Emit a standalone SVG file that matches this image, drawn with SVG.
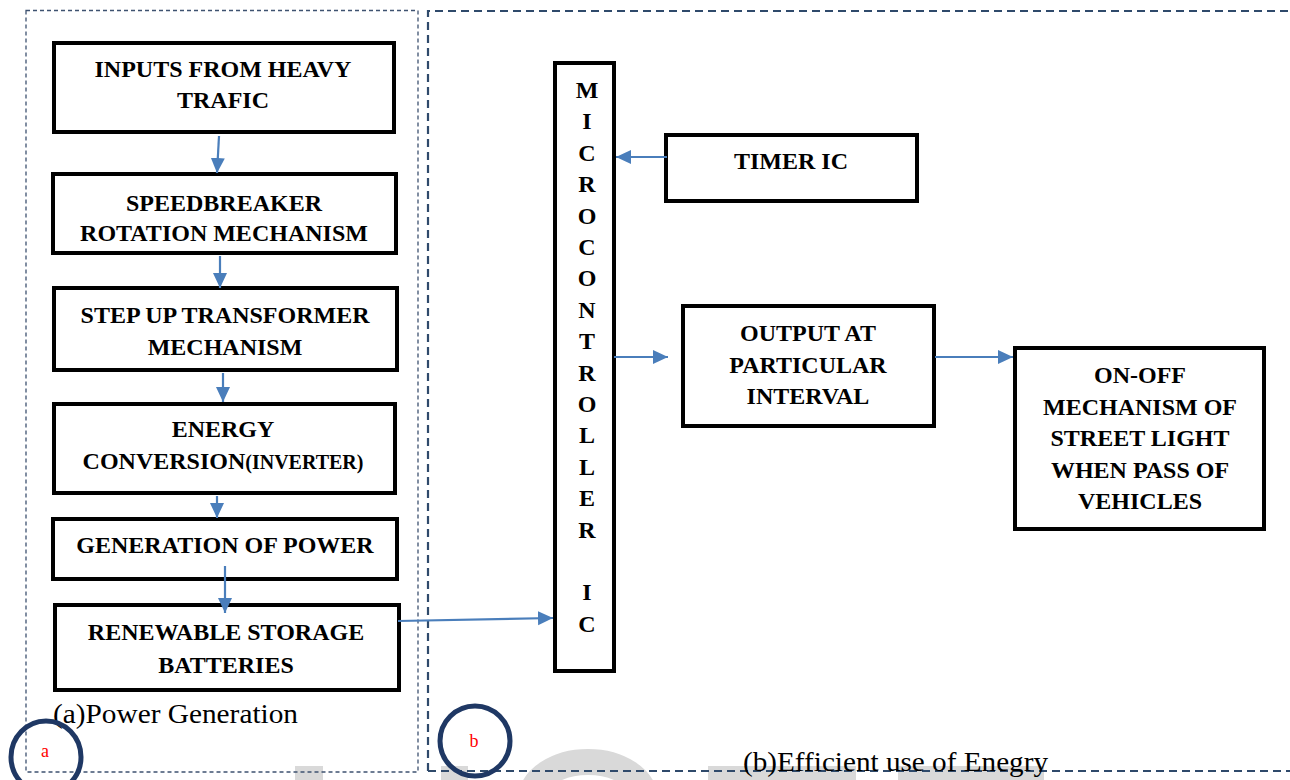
<svg xmlns="http://www.w3.org/2000/svg" width="1290" height="780" viewBox="0 0 1290 780">
<style>
.box{fill:#fff;stroke:#000;stroke-width:4}
.t{font-family:"Liberation Serif","Times New Roman",serif;font-weight:bold;font-size:24px;fill:#000;text-anchor:middle}
.lbl{font-family:"Liberation Serif","Times New Roman",serif;font-size:28px;fill:#000}
.red{font-family:"Liberation Serif","Times New Roman",serif;font-size:18px;fill:#ff0000;text-anchor:middle}
.conn{stroke:#4a7ebb;stroke-width:2.2;fill:none;marker-end:url(#ah)}
.wm{fill:#d9d9d9}
.circ{fill:none;stroke:#1f3864;stroke-width:5}
</style>
<defs>
<marker id="ah" markerUnits="userSpaceOnUse" markerWidth="16" markerHeight="15" refX="15" refY="7" orient="auto">
<path d="M0,0 L15,7 L0,14 z" fill="#4a7ebb"/>
</marker>
</defs>
<rect width="1290" height="780" fill="#fff"/>
<g id="watermark">
<rect class="wm" x="295" y="766" width="28" height="14"/>
<rect class="wm" x="441" y="766" width="27" height="14"/>
<path d="M531,800 A57,38 0 0 1 645,800" fill="none" stroke="#d9d9d9" stroke-width="26"/>
<rect class="wm" x="708" y="766" width="148" height="14"/>
<rect class="wm" x="898" y="766" width="146" height="14"/>
</g>
<g id="frames">
<rect x="26" y="10.5" width="392" height="761.5" fill="none" stroke="#3e5270" stroke-width="1.3" stroke-dasharray="4,3"/>
<path d="M428,771 L428,11 L1300,11 M428,771 L1300,771" fill="none" stroke="#2f4a6b" stroke-width="2.2" stroke-dasharray="8,5"/>
</g>
<g id="n1"><rect class="box" x="54" y="43" width="340" height="89"/><text class="t" x="223" y="77">INPUTS FROM HEAVY</text><text class="t" x="223" y="108">TRAFIC</text></g>
<g id="n2"><rect class="box" x="53" y="174" width="343" height="79"/><text class="t" x="224" y="211">SPEEDBREAKER</text><text class="t" x="224" y="241">ROTATION MECHANISM</text></g>
<g id="n3"><rect class="box" x="54" y="288" width="343" height="82"/><text class="t" x="225" y="323">STEP UP TRANSFORMER</text><text class="t" x="225" y="355">MECHANISM</text></g>
<g id="n4"><rect class="box" x="54" y="404" width="341" height="89"/><text class="t" x="223" y="437">ENERGY</text><text class="t" x="223" y="469">CONVERSION<tspan font-size="20">(INVERTER)</tspan></text></g>
<g id="n5"><rect class="box" x="53" y="519" width="344" height="60"/><text class="t" x="225" y="553">GENERATION OF POWER</text></g>
<g id="n6"><rect class="box" x="55" y="605" width="344" height="85"/><text class="t" x="226" y="640">RENEWABLE STORAGE</text><text class="t" x="226" y="673">BATTERIES</text></g>
<g id="micro"><rect class="box" x="555" y="63" width="59" height="608"/>
<text class="t" x="587" y="98">M</text><text class="t" x="587" y="129.4">I</text><text class="t" x="587" y="160.8">C</text><text class="t" x="587" y="192.2">R</text><text class="t" x="587" y="223.6">O</text><text class="t" x="587" y="255">C</text><text class="t" x="587" y="286.4">O</text><text class="t" x="587" y="317.8">N</text><text class="t" x="587" y="349.2">T</text><text class="t" x="587" y="380.6">R</text><text class="t" x="587" y="412">O</text><text class="t" x="587" y="443.4">L</text><text class="t" x="587" y="474.8">L</text><text class="t" x="587" y="506.2">E</text><text class="t" x="587" y="537.6">R</text><text class="t" x="587" y="600.4">I</text><text class="t" x="587" y="631.8">C</text>
</g>
<g id="timer"><rect class="box" x="666" y="135" width="251" height="66"/><text class="t" x="791" y="169">TIMER IC</text></g>
<g id="output"><rect class="box" x="683" y="306" width="251" height="120"/><text class="t" x="808" y="341">OUTPUT AT</text><text class="t" x="808" y="373">PARTICULAR</text><text class="t" x="808" y="404">INTERVAL</text></g>
<g id="onoff"><rect class="box" x="1015" y="348" width="249" height="181"/><text class="t" x="1140" y="383">ON-OFF</text><text class="t" x="1140" y="415">MECHANISM OF</text><text class="t" x="1140" y="446">STREET LIGHT</text><text class="t" x="1140" y="478">WHEN PASS OF</text><text class="t" x="1140" y="509">VEHICLES</text></g>
<g id="connectors">
<line class="conn" x1="219" y1="136" x2="217" y2="173"/>
<line class="conn" x1="220" y1="256" x2="220" y2="288"/>
<line class="conn" x1="223" y1="373" x2="223" y2="402"/>
<line class="conn" x1="217" y1="496" x2="217" y2="518"/>
<line class="conn" x1="225" y1="566" x2="225" y2="613"/>
<line class="conn" x1="398" y1="621" x2="553" y2="618"/>
<line class="conn" x1="667" y1="157" x2="616" y2="157"/>
<line class="conn" x1="614" y1="357" x2="668" y2="357"/>
<line class="conn" x1="935" y1="357" x2="1013" y2="357"/>
</g>
<g id="labels">
<text class="lbl" x="53" y="723" textLength="245" lengthAdjust="spacingAndGlyphs">(a)Power Generation</text>
<text class="lbl" x="743" y="771" textLength="305" lengthAdjust="spacingAndGlyphs">(b)Efficient use of Enegry</text>
<ellipse class="circ" cx="46" cy="757" rx="35" ry="36"/>
<text class="red" x="45" y="757">a</text>
<ellipse class="circ" cx="475" cy="741" rx="35" ry="35"/>
<text class="red" x="474" y="747">b</text>
</g>
</svg>
